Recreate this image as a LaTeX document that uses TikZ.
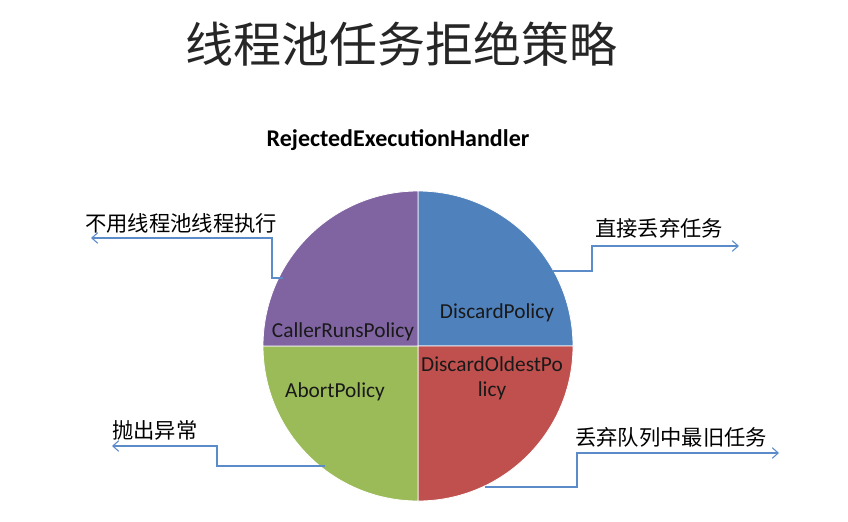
\documentclass[tikz,border=0pt]{standalone}
\usepackage{fontspec}
\setmainfont{Carlito}
\newfontfamily\cjk{Noto Sans CJK SC}
\usepackage{xcolor}
\usetikzlibrary{arrows.meta,positioning}
\definecolor{slblue}{HTML}{4F81BD}
\definecolor{slred}{HTML}{C0504D}
\definecolor{slgreen}{HTML}{9BBB59}
\definecolor{slpurple}{HTML}{8064A2}
\definecolor{lnkblue}{HTML}{5B8BC8}

\begin{document}
\begin{tikzpicture}[x=0.75pt,y=-0.75pt,>={Straight Barb[length=4.5pt,width=8pt]},
 lbl/.style={font=\cjk\fontsize{16}{19}\selectfont,anchor=west,inner sep=0pt},
 pol/.style={font=\fontsize{16}{19}\selectfont,text=black!90,inner sep=0pt,align=center},
 slice/.style={draw=white,line width=0.6pt},
 lnk/.style={draw=lnkblue,line width=0.8pt}]
 \useasboundingbox (0,0) rectangle (848,521);
 \node[font=\cjk\fontsize{36}{40}\selectfont,text=black!85,inner sep=0pt] (title) at (401,44) {线程池任务拒绝策略};
 \node[font=\bfseries\fontsize{18}{22}\selectfont,inner sep=0pt] (handler) at (398,140) {RejectedExecutionHandler};
 % pie
 \coordinate (o) at (418,346);
 \begin{scope}[shift={(o)},yscale=-1]
  \filldraw[slice,fill=slblue] (0,0) -- (0,155) arc[start angle=90,end angle=0,radius=155] -- cycle;
  \filldraw[slice,fill=slred] (0,0) -- (155,0) arc[start angle=0,end angle=-90,radius=155] -- cycle;
  \filldraw[slice,fill=slgreen] (0,0) -- (0,-155) arc[start angle=-90,end angle=-180,radius=155] -- cycle;
  \filldraw[slice,fill=slpurple] (0,0) -- (-155,0) arc[start angle=180,end angle=90,radius=155] -- cycle;
 \end{scope}
 \node[pol] (discard) at (497,313) {DiscardPolicy};
 \node[pol] (caller) at (343,332) {CallerRunsPolicy};
 \node[pol] (oldest) at (492,378) {DiscardOldestPo\\licy};
 \node[pol] (abort) at (335,392) {AbortPolicy};
 % labels
 \node[lbl] (callerlbl) at (85,223) {不用线程池线程执行};
 \node[lbl] (discardlbl) at (595,228) {直接丢弃任务};
 \node[lbl] (abortlbl) at (112,430) {抛出异常};
 \node[lbl] (oldestlbl) at (575,437) {丢弃队列中最旧任务};
 % connectors
 \coordinate (crA) at (283,278); \coordinate (crB) at (91,238);
 \coordinate (dpA) at (553,271); \coordinate (dpB) at (739,246);
 \coordinate (abA) at (325,466); \coordinate (abB) at (112,446);
 \coordinate (doA) at (485,487); \coordinate (doB) at (779,453);
 \draw[lnk,->] (crA) -- ++(-11,0) |- (crB);
 \draw[lnk,->] (dpA) -- ++(39,0) |- (dpB);
 \draw[lnk,->] (abA) -- ++(-108,0) |- (abB);
 \draw[lnk,->] (doA) -- ++(92,0) |- (doB);
\end{tikzpicture}
\end{document}
